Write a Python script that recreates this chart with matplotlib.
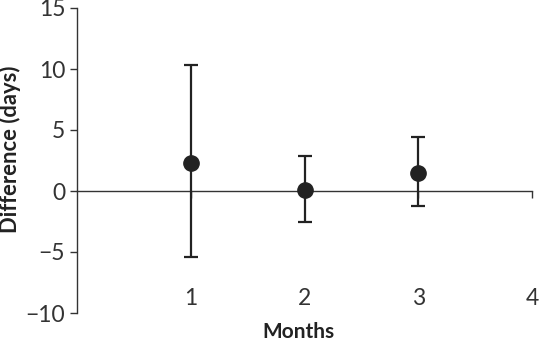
import matplotlib
matplotlib.use("Agg")
import matplotlib.pyplot as plt

months = [1, 2, 3]
difference = [2.3, 0.1, 1.5]
upper = [10.3, 2.9, 4.4]
lower = [-5.4, -2.5, -1.2]
xticks = [1, 2, 3, 4]
yticks = [-10, -5, 0, 5, 10, 15]

plt.rcParams['font.family'] = ['Lato', 'DejaVu Sans']

fig = plt.figure(figsize=(5.4, 3.43), dpi=100)
ax = fig.add_axes([77/540, 1-313/343, (532-77)/540, (313-8)/343])

err_lo = [d - l for d, l in zip(difference, lower)]
err_hi = [u - d for d, u in zip(difference, upper)]
ax.errorbar(months, difference, yerr=[err_lo, err_hi], fmt='o', color='#222222',
            markersize=11, elinewidth=1.6, capsize=5, capthick=1.6, zorder=3)

ax.set_xlim(0, 4)
ax.set_ylim(-10, 15)
ax.spines['top'].set_visible(False)
ax.spines['right'].set_visible(False)
ax.spines['bottom'].set_position(('data', 0))
for s in ['left', 'bottom']:
    ax.spines[s].set_color('#333333')
    ax.spines[s].set_linewidth(1.0)

ax.set_xticks(xticks)
ax.set_yticks(yticks)
ax.set_yticklabels([str(v).replace('-', '\u2212') for v in yticks])
ax.tick_params(axis='x', direction='out', length=5, width=1.0, color='#333333',
               pad=65, labelsize=16.5, labelcolor='#333333')
ax.tick_params(axis='y', direction='out', length=5, width=1.0, color='#333333',
               pad=3.5, labelsize=16.5, labelcolor='#333333')

fig.text(10/540, 1-149/343, 'Difference (days)', fontsize=15.8, fontweight='bold',
         color='#222222', rotation=90, ha='center', va='center')
fig.text(298/540, 1-332/343, 'Months', fontsize=15, fontweight='bold', color='#222222',
         ha='center', va='center')

fig.savefig('out.png', dpi=100)
